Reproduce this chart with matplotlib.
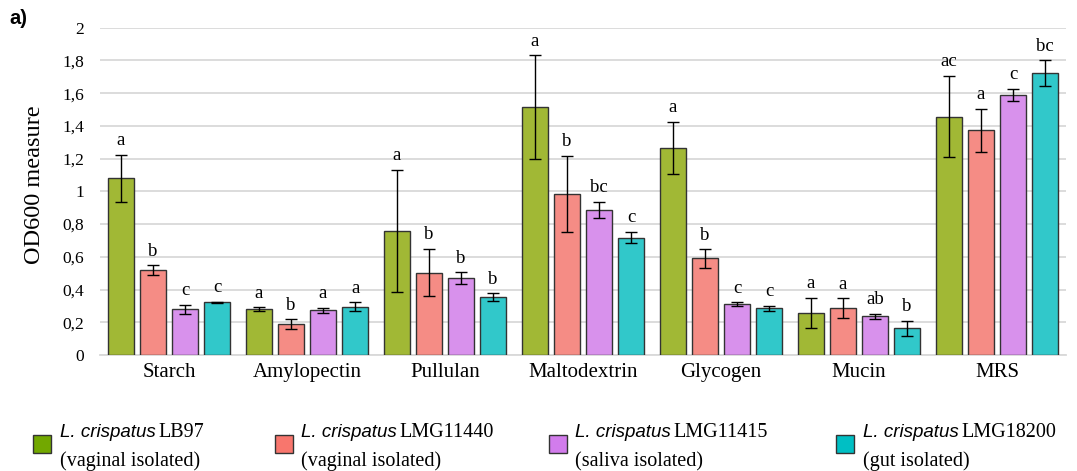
import numpy as np
import matplotlib.pyplot as plt

# substrates and strains
categories = ['Starch', 'Amylopectin', 'Pullulan', 'Maltodextrin', 'Glycogen', 'Mucin', 'MRS']
strains = ['LB97', 'LMG11440', 'LMG11415', 'LMG18200']
origins = ['(vaginal isolated)', '(vaginal isolated)', '(saliva isolated)', '(gut isolated)']

lb97 = [1.08, 0.28, 0.76, 1.515, 1.265, 0.258, 1.457]
lmg11440 = [0.518, 0.188, 0.504, 0.985, 0.59, 0.285, 1.372]
lmg11415 = [0.279, 0.272, 0.47, 0.888, 0.311, 0.236, 1.59]
lmg18200 = [0.321, 0.295, 0.352, 0.717, 0.285, 0.163, 1.721]

lb97_err = [0.145, 0.011, 0.373, 0.316, 0.161, 0.092, 0.25]
lmg11440_err = [0.029, 0.029, 0.143, 0.234, 0.056, 0.061, 0.132]
lmg11415_err = [0.029, 0.017, 0.035, 0.049, 0.01, 0.016, 0.036]
lmg18200_err = [0.004, 0.026, 0.024, 0.035, 0.016, 0.046, 0.08]

lb97_lett = ['a', 'a', 'a', 'a', 'a', 'a', 'ac']
lmg11440_lett = ['b', 'b', 'b', 'b', 'b', 'a', 'a']
lmg11415_lett = ['c', 'a', 'b', 'bc', 'c', 'ab', 'c']
lmg18200_lett = ['c', 'a', 'b', 'c', 'c', 'b', 'bc']

series = [lb97, lmg11440, lmg11415, lmg18200]
errs = [lb97_err, lmg11440_err, lmg11415_err, lmg18200_err]
letters = [lb97_lett, lmg11440_lett, lmg11415_lett, lmg18200_lett]

bar_colors = ['#A1B835', '#F58C85', '#D891EC', '#31C8CA']
legend_colors = ['#72A800', '#F8766D', '#D27CEC', '#00BFC4']

serif = 'Liberation Serif'
sans = 'Liberation Sans'

fig = plt.figure(figsize=(10.77, 4.71), dpi=100)
ax = fig.add_axes([0.0929, 0.2463, 0.8969, 0.6949])

x = np.arange(len(categories))
step = 0.232
width = 0.185
for i in range(4):
    xs = x + (i - 1.5) * step
    ax.bar(xs, series[i], width, color=bar_colors[i], edgecolor='#333333', linewidth=1.0, zorder=3)
    ax.errorbar(xs, series[i], yerr=errs[i], fmt='none', ecolor='black', elinewidth=1.0,
                capsize=4.5, capthick=1.0, zorder=4)
    for xi, v, e, t in zip(xs, series[i], errs[i], letters[i]):
        ax.annotate(t, (xi, v + e), xytext=(0, 7), textcoords='offset points',
                    ha='center', va='baseline', fontsize=13.5, family=serif)

ax.set_xlim(-0.5, len(categories) - 0.5)
ax.set_ylim(0, 2)
yt = np.arange(0, 2.01, 0.2)
ax.set_yticks(yt)
ax.set_yticklabels([('%.1f' % t).replace('.', ',').replace(',0', '') for t in yt],
                   family=serif, fontsize=12.5)
ax.set_xticks(x)
ax.set_xticklabels(categories, family=serif, fontsize=15)
ax.tick_params(axis='x', length=0, pad=5.5)
ax.tick_params(axis='y', length=0, pad=11.5)
ax.yaxis.grid(True, color='#D9D9D9', linewidth=1.3, zorder=0)
ax.set_axisbelow(True)
for s in ['top', 'right', 'left']:
    ax.spines[s].set_visible(False)
ax.spines['bottom'].set_color('#D9D9D9')
ax.spines['bottom'].set_linewidth(1.3)

W, H = 1077, 471
fig.text(34.5 / W, 1 - 185 / H, 'OD600 measure', family=serif, fontsize=17.5,
         rotation=90, ha='center', va='center')

fig.text(0.009, 1 - 18.5 / H, 'a)', family=sans, fontweight='bold', fontsize=14.5, va='center')

# legend drawn by hand
sw_x = [33, 275, 549, 836]
txt_x = [60, 301, 575, 863]
for i in range(4):
    fig.patches.append(plt.Rectangle((sw_x[i] / W, 1 - 453 / H), 18 / W, 18 / H,
                                     transform=fig.transFigure, facecolor=legend_colors[i],
                                     edgecolor='#333333', linewidth=1.0))
    t = fig.text(txt_x[i] / W, 1 - 437 / H, 'L. crispatus', family=sans, style='italic',
                 fontsize=13.5, va='baseline')
    fig.canvas.draw()
    bb = t.get_window_extent()
    fig.text(bb.x1 / W + 3 / W, 1 - 437 / H, strains[i], family=serif, fontsize=14.5, va='baseline')
    fig.text(txt_x[i] / W, 1 - 466 / H, origins[i], family=serif, fontsize=14.5, va='baseline')

fig.savefig('out.png', dpi=100)
